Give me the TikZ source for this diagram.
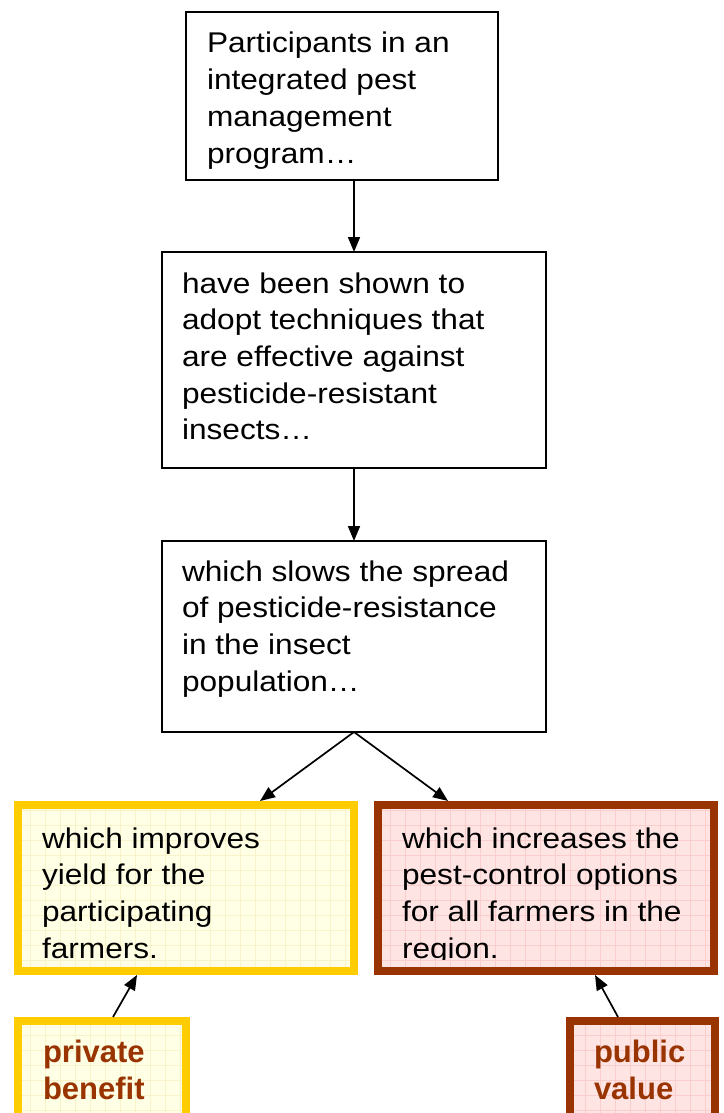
\documentclass[tikz,border=0pt]{standalone}
\usepackage{fontspec}
\setmainfont{Liberation Sans}
\newfontfamily\regfont[FakeStretch=1.11]{Liberation Sans}
\usetikzlibrary{arrows.meta}
\definecolor{ybord}{RGB}{255,204,0}
\definecolor{yfill}{RGB}{255,255,230}
\definecolor{ygridc}{RGB}{248,243,200}
\definecolor{bbord}{RGB}{153,51,0}
\definecolor{pfill}{RGB}{255,228,228}
\definecolor{pgridc}{RGB}{252,205,205}
\begin{document}
\begin{tikzpicture}[x=1pt,y=-1pt,
  plainbox/.style={draw=black,line width=2pt,fill=white,inner sep=0pt,outer sep=0pt},
  ybox/.style={fill=yfill,inner sep=0pt,outer sep=0pt},
  pbox/.style={fill=pfill,inner sep=0pt,outer sep=0pt},
  yedge/.style={draw=ybord,line width=8pt},
  pedge/.style={draw=bbord,line width=8pt},
  txt/.style={inner sep=0pt,outer sep=0pt,anchor=base west,text=black,
              font=\regfont\fontsize{28.5}{36.7}\selectfont},
  btxt/.style={inner sep=0pt,outer sep=0pt,anchor=base west,text=bbord,
              font=\bfseries\fontsize{31}{37}\selectfont},
  arr/.style={draw=black,line width=1.7pt,-{Triangle[length=15pt,width=12pt]}}]
\useasboundingbox (0,0) rectangle (723,1113);
\clip (0,0) rectangle (723,1113);

% boxes
\node[plainbox,minimum width=312pt,minimum height=168pt] (b1) at (342,96) {};
\node[plainbox,minimum width=384pt,minimum height=216pt] (b2) at (354,360) {};
\node[plainbox,minimum width=384pt,minimum height=191pt] (b3) at (354,636.5) {};
\node[ybox,minimum width=336pt,minimum height=166pt] (b4) at (186,888) {};
\node[pbox,minimum width=336pt,minimum height=166pt] (b5) at (546,888) {};
\node[ybox,minimum width=167.5pt,minimum height=119pt] (b6) at (101.75,1080.5) {};
\node[pbox,minimum width=144.5pt,minimum height=119pt] (b7) at (642.25,1080.5) {};

% grids
\begin{scope}
\clip (b4.north west) rectangle (b4.south east);
\draw[ygridc,line width=0.8pt] (b4.south west) grid[step=15pt] (b4.north east);
\end{scope}
\begin{scope}
\clip (b6.north west) rectangle (b6.south east);
\draw[ygridc,line width=0.8pt] (b6.south west) grid[step=15pt] (b6.north east);
\end{scope}
\begin{scope}
\clip (b5.north west) rectangle (b5.south east);
\draw[pgridc,line width=0.8pt] (b5.south west) grid[step=15pt] (b5.north east);
\end{scope}
\begin{scope}
\clip (b7.north west) rectangle (b7.south east);
\draw[pgridc,line width=0.8pt] (b7.south west) grid[step=15pt] (b7.north east);
\end{scope}

% texts
\node[txt] (t1) at (207,53) {\parbox[t]{290pt}{\raggedright Participants in an\\integrated pest\\management\\program…}};
\node[txt] (t2) at (182,293) {\parbox[t]{360pt}{\raggedright have been shown to\\adopt techniques that\\are effective against\\pesticide-resistant\\insects…}};
\node[txt] (t3) at (182,581) {\parbox[t]{360pt}{\raggedright which slows the spread\\of pesticide-resistance\\in the insect\\population…}};
\node[txt] (t4) at (42,848) {\parbox[t]{300pt}{\raggedright which improves\\yield for the\\participating\\farmers.}};
\begin{scope}
\clip (b5.north west) rectangle (714,959);
\node[txt] (t5) at (402,848) {\parbox[t]{310pt}{\raggedright which increases the\\pest-control options\\for all farmers in the\\region.}};
\end{scope}
\node[btxt] (t6) at (43,1062) {\parbox[t]{140pt}{\raggedright private\\benefit}};
\node[btxt] (t7) at (594,1062) {\parbox[t]{120pt}{\raggedright public\\value}};

% thick borders on top
\draw[yedge] (b4.north west) rectangle (b4.south east);
\draw[pedge] (b5.north west) rectangle (b5.south east);
\draw[yedge] (b6.north west) rectangle (b6.south east);
\draw[pedge] (b7.north west) rectangle (b7.south east);

% connector ends
\coordinate (a4) at (260,801);
\coordinate (a5) at (448,801);
\coordinate (s6) at (113,1017);
\coordinate (e4) at (137,975);
\coordinate (s7) at (618,1017);
\coordinate (e5) at (595,975);

% connectors
\draw[arr] (b1.south -| b2.north) -- (b2.north);
\draw[arr] (b2.south) -- (b3.north);
\draw[arr] (b3.south) -- (a4);
\draw[arr] (b3.south) -- (a5);
\draw[arr] (s6) -- (e4);
\draw[arr] (s7) -- (e5);
\end{tikzpicture}
\end{document}
